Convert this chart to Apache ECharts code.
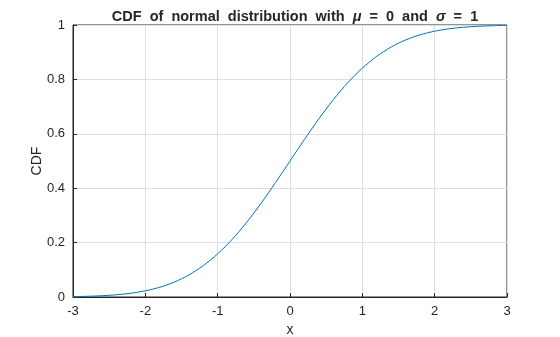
<!DOCTYPE html>
<html><head><meta charset="utf-8">
<script src="https://cdn.jsdelivr.net/npm/echarts@6/dist/echarts.min.js"></script>
<style>html,body{margin:0;padding:0;background:#fff}#c{width:560px;height:337px}</style>
</head><body><div id="c"></div>
<script>
const xValues = [-3,-2.8,-2.6,-2.4,-2.2,-2,-1.8,-1.6,-1.4,-1.2,-1,-0.8,-0.6,-0.4,-0.2,0,0.2,0.4,0.6,0.8,1,1.2,1.4,1.6,1.8,2,2.2,2.4,2.6,2.8,3];
const cdfValues = [0.0013,0.0026,0.0047,0.0082,0.0139,0.0228,0.0359,0.0548,0.0808,0.1151,0.1587,0.2119,0.2743,0.3446,0.4207,0.5,0.5793,0.6554,0.7257,0.7881,0.8413,0.8849,0.9192,0.9452,0.9641,0.9772,0.9861,0.9918,0.9953,0.9974,0.9987];
const xTicks = [-3,-2,-1,0,1,2,3];
const yTicks = [0,0.2,0.4,0.6,0.8,1];

const font = 'Liberation Sans, Arial, Helvetica, sans-serif';
const chart = echarts.init(document.getElementById('c'));
chart.setOption({
  animation: false,
  title: {
    text: '{b|CDF  of  normal  distribution  with  }{i|μ}{b|  =  0  and  }{i|σ}{b|  =  1}',
    left: 290, top: 4, textAlign: 'center',
    textStyle: {
      rich: {
        b: {fontFamily: font, fontWeight: 'bold', fontSize: 14.5, color: '#262626'},
        i: {fontFamily: font, fontWeight: 'bold', fontStyle: 'italic', fontSize: 14.5, color: '#262626'}
      }
    }
  },
  grid: {left: 73, right: 53, top: 25, bottom: 40, outerBoundsMode: 'none', containLabel: false,
    show: true, borderColor: '#262626', borderWidth: 1, backgroundColor: 'transparent'},
  xAxis: {
    type: 'value', min: -3, max: 3, interval: 1,
    name: 'x', nameLocation: 'middle', nameGap: 26,
    nameTextStyle: {fontFamily: font, fontSize: 14, color: '#262626'},
    axisLine: {show: true, onZero: false, lineStyle: {color: '#262626'}},
    axisTick: {show: true, inside: true, length: 4, lineStyle: {color: '#262626'}},
    axisLabel: {fontFamily: font, fontSize: 13, color: '#262626', margin: 8,
      formatter: v => xTicks.includes(v) ? String(v) : ''},
    splitLine: {show: true, lineStyle: {color: '#dfdfdf', width: 1}}
  },
  yAxis: {
    type: 'value', min: 0, max: 1, interval: 0.2,
    name: 'CDF', nameLocation: 'middle', nameGap: 29, nameMoveOverlap: false,
    nameTextStyle: {fontFamily: font, fontSize: 14, color: '#262626'},
    axisLine: {show: true, onZero: false, lineStyle: {color: '#262626'}},
    axisTick: {show: true, inside: true, length: 4, lineStyle: {color: '#262626'}},
    axisLabel: {fontFamily: font, fontSize: 13, color: '#262626', margin: 8,
      formatter: v => { const t = yTicks.find(y => Math.abs(y - v) < 1e-9); return t === undefined ? '' : String(t); }},
    splitLine: {show: true, lineStyle: {color: '#dfdfdf', width: 1}}
  },
  series: [{
    type: 'line', data: xValues.map((x, i) => [x, cdfValues[i]]),
    smooth: 0.3, showSymbol: false, lineStyle: {color: '#0072BD', width: 1}, z: 3
  }]
});
</script></body></html>
